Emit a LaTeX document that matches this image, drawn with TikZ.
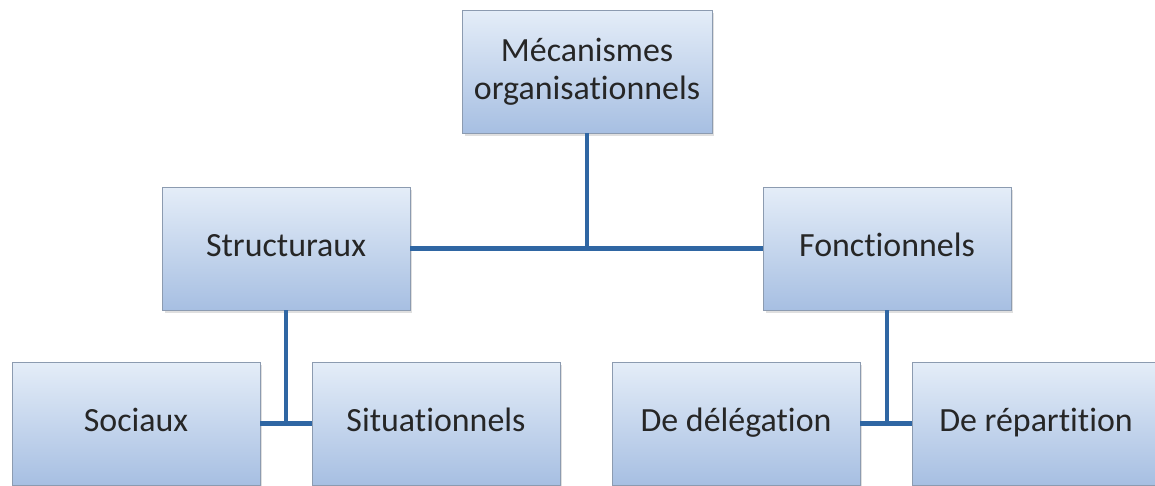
\documentclass[tikz,border=0pt]{standalone}
\usepackage{fontspec}
\setmainfont[Ligatures=NoCommon]{Carlito}
\usepackage{xcolor}
\usetikzlibrary{shadows}
\definecolor{boxtop}{HTML}{E4EDF8}
\definecolor{boxbot}{HTML}{A7BFE2}
\definecolor{boxline}{HTML}{8C9BB0}
\definecolor{linkblue}{HTML}{2F66A3}

\begin{document}
\begin{tikzpicture}[
    x=0.02cm, y=-0.02cm,
    unit/.style={rectangle, draw=boxline, top color=boxtop, bottom color=boxbot, text=black!85,
        minimum width=4.96cm, minimum height=2.46cm, align=center,
        font=\fontsize{19.3}{21.8}\selectfont,
        drop shadow={opacity=0.25, shadow xshift=0.05cm, shadow yshift=-0.06cm}},
    oneline/.style={unit, text height=1.1em, text depth=0.22em},
    link/.style={draw=linkblue, line width=2.3pt}
]

\useasboundingbox (0,0) rectangle (1155,486);
\clip (0,0) rectangle (1155,486);

% Level 1
\node[unit, minimum width=5cm] at (587,71.5) (meca) {Mécanismes\\organisationnels};

% Level 2
\node[oneline] at (286,248.5) (struc) {Structuraux};
\node[oneline] at (887,248.5) (fonc) {Fonctionnels};

% Level 3
\node[oneline] at (136,423.5) (soc) {Sociaux};
\node[oneline] at (436,423.5) (situ) {Situationnels};
\node[oneline] at (736,423.5) (dele) {De délégation};
\node[oneline] at (1036,423.5) (repa) {De répartition};

% Links
\coordinate (j1) at (meca.south |- struc.east);
\draw[link] (meca.south) -- (j1);
\draw[link] (struc.east) -- (fonc.west);

\coordinate (j2) at (struc.south |- soc.east);
\draw[link] (struc.south) -- (j2);
\draw[link] (soc.east) -- (situ.west);

\coordinate (j3) at (fonc.south |- dele.east);
\draw[link] (fonc.south) -- (j3);
\draw[link] (dele.east) -- (repa.west);

\end{tikzpicture}
\end{document}
